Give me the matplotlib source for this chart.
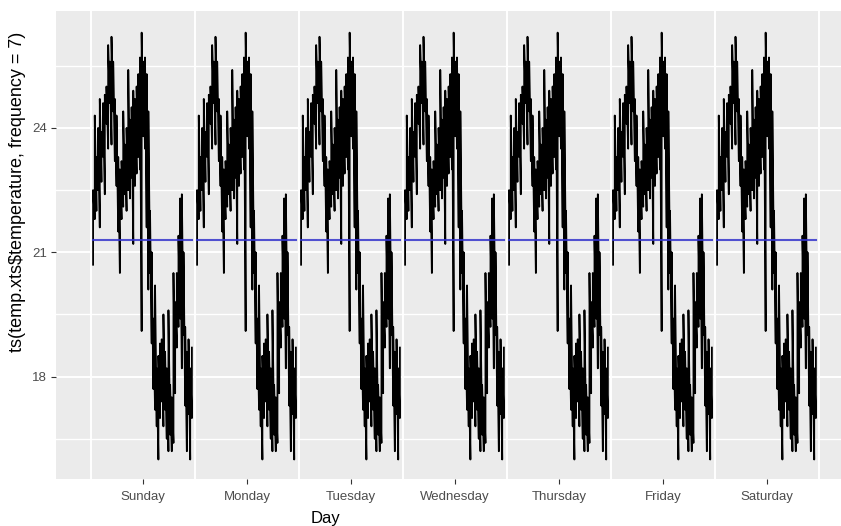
import numpy as np
import matplotlib
matplotlib.use('Agg')
import matplotlib.pyplot as plt

plt.rcParams['font.family'] = ['Liberation Sans', 'DejaVu Sans']

days = ['Sunday', 'Monday', 'Tuesday', 'Wednesday', 'Thursday', 'Friday', 'Saturday']
day_means = [21.3, 21.3, 21.3, 21.3, 21.3, 21.3, 21.3]

# temperature subseries (panels are near identical)
wave_lo = [20.7, 21.8, 22.0, 22.5, 21.6, 22.7, 23.3, 22.4, 24.1, 23.5,
           24.6, 23.6, 24.4, 23.2, 22.6, 21.5, 20.5, 21.8, 22.1, 22.4,
           22.0, 22.5, 22.3, 22.8, 21.2, 22.6, 22.9, 23.3, 23.0, 19.1,
           23.8, 23.5, 21.6, 20.1, 20.5, 18.8, 17.7, 17.2, 16.8, 16.0,
           17.0, 17.4, 16.8, 17.2, 16.5, 16.2, 16.6, 16.2, 16.4, 17.6,
           18.7, 19.2, 19.4, 18.2, 19.0, 17.3, 16.2, 17.1, 16.0, 17.0]
wave_hi = [22.5, 24.3, 23.3, 24.0, 24.7, 23.9, 24.6, 24.8, 25.0, 26.0,
           25.6, 26.2, 25.6, 24.7, 24.3, 23.3, 23.0, 23.2, 24.4, 23.6,
           24.0, 25.4, 24.2, 24.5, 24.9, 24.7, 25.0, 25.3, 25.7, 26.3,
           25.6, 25.7, 25.3, 24.4, 22.0, 21.0, 19.4, 20.2, 18.2, 18.5,
           18.8, 18.9, 19.5, 18.6, 18.2, 19.6, 17.8, 17.5, 20.5, 19.8,
           20.5, 21.4, 22.3, 22.4, 21.0, 19.2, 18.6, 18.9, 18.2, 18.7]

fig = plt.figure(figsize=(8.41, 5.26), dpi=100)
ax = fig.add_axes([0.0666, 0.0894, 0.9334, 0.8903])
ax.set_facecolor('#EBEBEB')
for s in ax.spines.values():
    s.set_visible(False)

# grid
for y in [16.5, 19.5, 22.5, 25.5]:
    ax.axhline(y, color='white', lw=1.0, zorder=0)
for y in [18, 21, 24]:
    ax.axhline(y, color='white', lw=1.4, zorder=0)
for xb in np.arange(0.5, 8.0, 1.0):
    ax.axvline(xb, color='white', lw=1.4, zorder=0)

n = len(wave_lo)
for d in range(len(days)):
    xs = d + 1 + np.linspace(-0.48, 0.47, n)
    px = np.repeat(xs, 2)
    py = np.empty(2 * n)
    py[0::2] = wave_lo
    py[1::2] = wave_hi
    ax.plot(px, py, color='black', lw=1.3, zorder=2)
    ax.plot([d + 1 - 0.48, d + 1 + 0.47], [day_means[d]] * 2,
            color='#3535cc', lw=1.5, alpha=0.85, zorder=3)

ax.set_xlim(0.1635, 7.7115)
ax.set_ylim(15.53, 26.83)
ax.set_xticks(range(1, 8))
ax.set_xticklabels(days, fontsize=9)
ax.set_yticks([18, 21, 24])
ax.tick_params(colors='#333333', length=3.5, width=0.8, labelcolor='#4D4D4D',
               labelsize=9.5, pad=3)
ax.tick_params(axis='x', pad=5)

fig.text(325 / 841, 1 - 518 / 526, 'Day', ha='center', va='center', fontsize=12)
fig.text(18 / 841, 1 - 192 / 526, 'ts(temp.xts$temperature, frequency = 7)',
         ha='center', va='center', rotation=90, fontsize=13)

fig.savefig('out.png', dpi=100)
